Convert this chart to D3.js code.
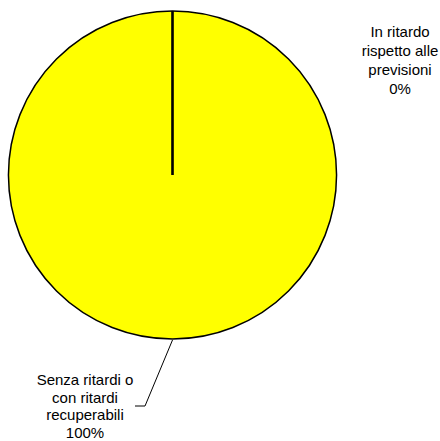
<!DOCTYPE html>
<html><head><meta charset="utf-8">
<script src="https://cdn.jsdelivr.net/npm/d3@7"></script>
<style>
html,body{margin:0;padding:0;background:#fff;}
svg{display:block;}
text{font-family:"Liberation Sans Narrow","Arial Narrow","Liberation Sans",Arial,sans-serif;font-size:15px;fill:#000;}
</style></head><body>
<script>
const categories = ["Senza ritardi o con ritardi recuperabili", "In ritardo rispetto alle previsioni"];
const labelLines = [["Senza ritardi o", "con ritardi", "recuperabili"], ["In ritardo", "rispetto alle", "previsioni"]];
const values = [100, 0];
const colors = ["#FFFF00", "#9999FF"];

const W = 440, H = 441;
const cx = 172.5, cy = 175, R = 164;
const svg = d3.select("body").append("svg").attr("width", W).attr("height", H);
const g = svg.append("g").attr("transform", `translate(${cx},${cy})`);

const total = d3.sum(values);
const pie = d3.pie().sort(null).value(d => d)(values);
const arc = d3.arc().innerRadius(0).outerRadius(R);

g.selectAll("path.slice").data(pie).join("path")
  .attr("class", "slice")
  .attr("d", arc)
  .attr("fill", (d, i) => colors[i])
  .attr("stroke", "#000").attr("stroke-width", 1.5);

// radial separators at slice boundaries
const pt = (a, r) => [Math.sin(a) * r, -Math.cos(a) * r];
g.selectAll("line.sep").data(pie).join("line")
  .attr("class", "sep")
  .attr("x1", 0).attr("y1", 0)
  .attr("x2", d => pt(d.startAngle, R)[0])
  .attr("y2", d => pt(d.startAngle, R)[1])
  .attr("stroke", "#000").attr("stroke-width", 2);

const fmt = v => Math.round(v / total * 100) + "%";

// Labels
const labelPos = [[85, 380], [400, 32]];
const lh = 17.5;
pie.forEach((d, i) => {
  const lines = labelLines[i].concat([fmt(d.value)]);
  const t = svg.append("text").attr("text-anchor", "middle");
  lines.forEach((s, k) => {
    t.append("tspan").attr("x", labelPos[i][0]).attr("y", labelPos[i][1] + k * (i === 0 ? lh : 19))
      .attr("dy", "0.35em").text(s);
  });
});

// leader line for the big slice
const d0 = pie[0];
const mid = (d0.startAngle + d0.endAngle) / 2;
const p0 = pt(mid, R + 1);
svg.append("polyline")
  .attr("points", [[cx + p0[0], cy + p0[1]], [145, 406], [135, 406]].map(p => p.join(",")).join(" "))
  .attr("fill", "none").attr("stroke", "#000").attr("stroke-width", 1);
</script>
</body></html>
